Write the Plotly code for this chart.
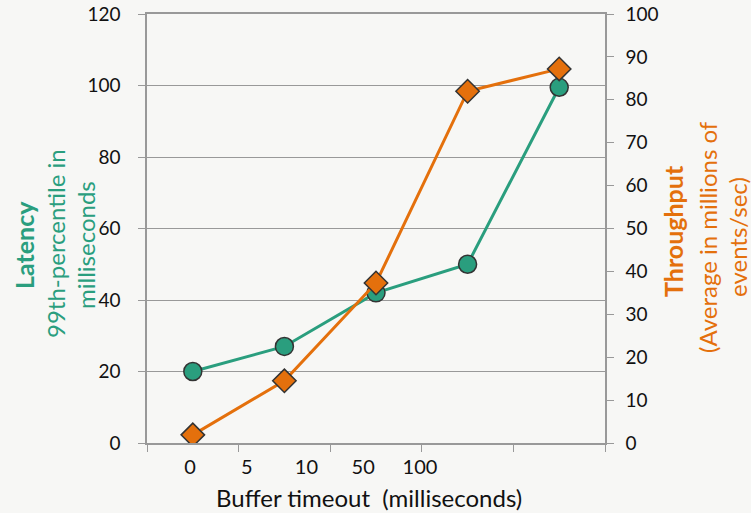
import plotly.graph_objects as go

categories = ["0", "5", "10", "50", "100"]
tick_labels = ["0", "5", "10", "50", "100"]
latency = [20, 27, 42, 50, 99.5]
throughput = [1.9, 14.5, 37.3, 82, 87.2]

GREEN = "#2a9e7e"
ORANGE = "#e4700c"
BG = "#f7f7f5"
AX = "#999999"
FONT = "Lato"

FW, FH = 751, 513
L, R, T, B = 147, 605, 14, 443

xpos = [i + 0.5 for i in range(len(categories))]

fig = go.Figure()
fig.add_trace(go.Scatter(
    x=xpos, y=latency, mode="lines+markers", name="Latency",
    line=dict(color=GREEN, width=3),
    marker=dict(symbol="circle", size=18, color=GREEN, line=dict(color="#333333", width=1.5)),
    xaxis="x", yaxis="y"))
fig.add_trace(go.Scatter(
    x=xpos, y=throughput, mode="lines+markers", name="Throughput",
    line=dict(color=ORANGE, width=3),
    marker=dict(symbol="diamond", size=18, color=ORANGE, line=dict(color="#333333", width=1.5)),
    xaxis="x", yaxis="y2"))

# offset tick labels (as drawn in the reference)
label_pos = [0.47, 1.09, 1.74, 2.36, 2.98]

fig.add_trace(go.Scatter(x=[label_pos[0]], y=[None], xaxis="x2", yaxis="y",
                         mode="markers", showlegend=False, hoverinfo="skip"))

fig.update_layout(
    width=FW, height=FH,
    margin=dict(l=L, r=FW - R, t=T, b=FH - B, autoexpand=False),
    paper_bgcolor=BG, plot_bgcolor=BG,
    showlegend=False,
    font=dict(family=FONT, size=19, color="#111111"),
    xaxis=dict(range=[0, len(categories)], tickvals=list(range(len(categories) + 1)),
               ticktext=[""] * (len(categories) + 1), ticks="outside", ticklen=7,
               tickcolor=AX, showgrid=False, zeroline=False, showline=True,
               linecolor=AX, linewidth=1.5, mirror=True, automargin=False),
    xaxis2=dict(overlaying="x", side="bottom", range=[0, len(categories)],
                tickvals=label_pos, ticktext=tick_labels, ticks="", showgrid=False,
                zeroline=False, showline=False, tickfont=dict(size=20), anchor="y",
                automargin=False, ticklabelstandoff=10),
    yaxis=dict(range=[0, 120], dtick=20, ticks="outside", ticklen=7, tickcolor=AX,
               showgrid=True, gridcolor=AX, gridwidth=1, showline=True, linecolor=AX,
               linewidth=1.5, zeroline=False, tickfont=dict(size=19), ticklabelstandoff=14,
               automargin=False, ticklabeloverflow="allow"),
    yaxis2=dict(range=[0, 100], dtick=10, overlaying="y", side="right", ticks="outside",
                ticklen=7, tickcolor=AX, showgrid=False, showline=True, linecolor=AX,
                linewidth=1.5, zeroline=False, tickfont=dict(size=19), ticklabelstandoff=8,
                automargin=False, ticklabeloverflow="allow"),
)

W = float(R - L)
H = float(B - T)
def px(xp):
    return (xp - L) / W
def py(yp):
    return (B - yp) / H

ann = [
    dict(text="<b>Latency</b>", x=px(24), y=py(245), color=GREEN, size=25),
    dict(text="99th-percentile in", x=px(55), y=py(244), color=GREEN, size=24),
    dict(text="milliseconds", x=px(85), y=py(245), color=GREEN, size=24),
    dict(text="<b>Throughput</b>", x=px(673), y=py(231), color=ORANGE, size=25),
    dict(text="(Average in millions of", x=px(707), y=py(237), color=ORANGE, size=24),
    dict(text="events/sec)", x=px(737), y=py(237), color=ORANGE, size=24),
]
for a in ann:
    fig.add_annotation(text=a["text"], x=a["x"], y=a["y"], xref="paper", yref="paper",
                       showarrow=False, textangle=-90, xanchor="center", yanchor="middle",
                       font=dict(family=FONT, size=a["size"], color=a["color"]))

fig.add_annotation(text="Buffer timeout  (milliseconds)", x=px(369), y=py(497),
                   xref="paper", yref="paper", showarrow=False, xanchor="center",
                   yanchor="middle", font=dict(family=FONT, size=24, color="#111111"))

fig.write_html("out.html", config={"displayModeBar": False},
               post_script="document.body.style.margin='0px';")
